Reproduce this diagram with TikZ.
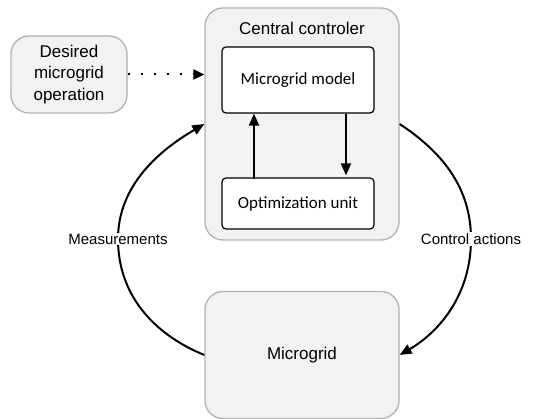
\documentclass[tikz,border=0pt]{standalone}
\usepackage{fontspec}
\setmainfont{Liberation Sans}
\newfontfamily\calib{Carlito}
\usetikzlibrary{arrows.meta,calc}
\definecolor{boxfill}{HTML}{F2F2F2}
\definecolor{boxline}{HTML}{B3B3B3}
\begin{document}
\begin{tikzpicture}[x=1pt,y=-1pt,
  graybox/.style={draw=boxline,fill=boxfill,line width=1.3pt,rounded corners=18pt,inner sep=0pt},
  innerbox/.style={draw=black,fill=white,line width=1.2pt,rounded corners=4pt,inner sep=0pt,minimum width=152pt,font=\calib\fontsize{17}{20}\selectfont},
  conn/.style={line width=2pt,-{Triangle[length=12pt,width=10pt]}},
  lbl/.style={fill=white,inner sep=1pt,font=\fontsize{15}{18}\selectfont}]
\useasboundingbox (0,0) rectangle (549,419);
\node[graybox,minimum width=194pt,minimum height=232pt] (central) at (302,124) {};
\node[font=\fontsize{17}{20}\selectfont] (title) at (302,28) {Central controler};
\node[innerbox,minimum height=66pt] (model) at (298,80) {Microgrid model};
\node[innerbox,minimum height=51pt] (opt) at (298,203.5) {Optimization unit};
\node[graybox,minimum width=116pt,minimum height=77pt,align=center,font=\fontsize{17}{21.5}\selectfont] (desired) at (69,74.5) {Desired\\microgrid\\operation};
\node[graybox,minimum width=194pt,minimum height=127pt,font=\fontsize{17}{20}\selectfont] (micro) at (302,355) {Microgrid};
\draw[line width=2pt,dash pattern=on 2pt off 11pt,-{Triangle[length=11pt,width=10pt]}] (desired.east) -- (central.west |- desired.east);
\draw[conn] ($(opt.north)+(-44,2)$) -- ($(model.south)+(-44,0)$);
\draw[conn] ($(model.south)+(48,0)$) -- ($(opt.north)+(48,-2)$);
\draw[conn] (micro.west) .. controls (160,337) and (118,300) .. (118,239)
  .. controls (118,185) and (160,150) .. (central.west);
\draw[conn] (central.east) .. controls (439,150) and (471,185) .. (471,239)
  .. controls (471,295) and (439,332) .. (micro.east);
\node[lbl] (meas) at (118,239) {Measurements};
\node[lbl] (ctrl) at (471,239) {Control actions};
\end{tikzpicture}
\end{document}
